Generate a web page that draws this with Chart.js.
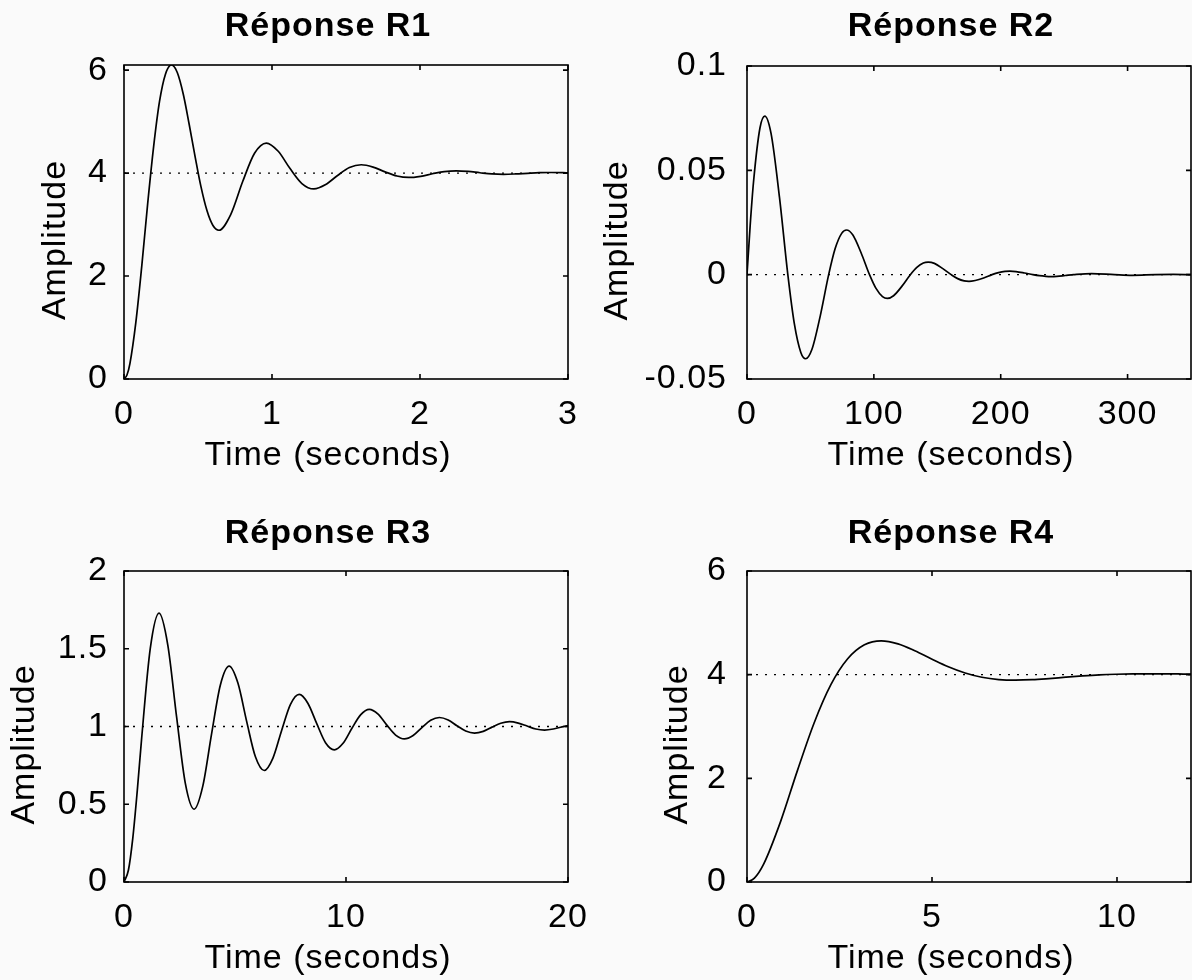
<!DOCTYPE html>
<html><head><meta charset="utf-8">
<script src="https://cdn.jsdelivr.net/npm/chart.js@4.4.1/dist/chart.umd.min.js"></script>
<style>
html,body{margin:0;padding:0;background:#fafafa;}
#wrap{position:relative;width:1192px;height:980px;overflow:hidden;background:#fafafa;}
canvas{position:absolute;}
</style></head><body>
<div id="wrap">
<canvas id="c1" width="596" height="490" style="left:0;top:0"></canvas>
<canvas id="c2" width="596" height="490" style="left:596px;top:0"></canvas>
<canvas id="c3" width="596" height="490" style="left:0;top:490px"></canvas>
<canvas id="c4" width="596" height="490" style="left:596px;top:490px"></canvas>
</div>
<script>
// ---------- data ----------
const titles = ['Réponse R1', 'Réponse R2', 'Réponse R3', 'Réponse R4'];
const xLabel = 'Time (seconds)';
const yLabel = 'Amplitude';

const r1Time = [0, 0.02, 0.04, 0.08, 0.12, 0.16, 0.20, 0.24, 0.28, 0.321, 0.36, 0.401, 0.44, 0.481, 0.52, 0.561, 0.60, 0.641,
  0.721, 0.802, 0.882, 0.962, 1.042, 1.122, 1.202, 1.283, 1.363, 1.443, 1.523, 1.603, 1.683, 1.764, 1.844, 1.924,
  2.004, 2.084, 2.164, 2.245, 2.325, 2.405, 2.485, 2.565, 2.645, 2.726, 2.806, 2.886, 2.966, 3.0];
const r1Amp = [0, 0.078, 0.300, 1.099, 2.193, 3.408, 4.511, 5.392, 5.922, 6.107, 5.954, 5.528, 4.954, 4.312, 3.737, 3.267, 2.988, 2.890,
  3.195, 3.836, 4.386, 4.584, 4.424, 4.087, 3.797, 3.692, 3.777, 3.954, 4.107, 4.162, 4.117, 4.024, 3.944, 3.915,
  3.938, 3.987, 4.030, 4.045, 4.033, 4.007, 3.984, 3.976, 3.983, 3.996, 4.008, 4.012, 4.009, 4.006];
const r1Final = 4;
const r1XTicks = [0, 1, 2, 3];
const r1YTicks = [0, 2, 4, 6];
const r1XRange = [0, 3];
const r1YRange = [0, 6.1];

const r2Time = [0, 2.56, 5.12, 10.25, 14.05, 18.95, 25.61, 32.19, 37.31, 42.43, 46.24, 51.14, 57.80, 64.38,
  69.50, 74.62, 78.43, 83.33, 89.99, 96.57, 101.69, 106.81, 110.62, 115.52, 122.18, 128.76,
  133.88, 139.00, 142.81, 147.71, 154.37, 160.95, 166.07, 171.19, 175.00, 179.90, 186.56, 193.14,
  198.26, 203.38, 207.19, 212.09, 218.75, 225.33, 230.45, 235.57, 239.38, 244.28, 250.94, 257.52,
  271.57, 289.71, 303.76, 321.90, 335.95, 350];
const r2Amp = [0, 0.0241, 0.0443, 0.0704, 0.0760, 0.0677, 0.0370, 0, -0.0235, -0.0373, -0.0403, -0.0359, -0.0196, 0,
  0.0125, 0.0198, 0.0214, 0.0191, 0.0104, 0, -0.0066, -0.0105, -0.0114, -0.0101, -0.0055, 0,
  0.0035, 0.0056, 0.0060, 0.0054, 0.0029, 0, -0.0019, -0.0030, -0.0032, -0.0028, -0.0016, 0,
  0.0010, 0.0016, 0.0017, 0.0015, 0.0008, 0, -0.0005, -0.0008, -0.0009, -0.0008, -0.0004, 0,
  0.0005, 0, -0.0003, 0, 0.0001, 0];
const r2Final = 0;
const r2XTicks = [0, 100, 200, 300];
const r2YTicks = [-0.05, 0, 0.05, 0.1];
const r2XRange = [0, 350];
const r2YRange = [-0.05, 0.1];

const r3Time = [0, 0.2, 0.395, 0.6, 0.789, 1.184, 1.579, 1.973, 2.368, 2.763, 3.157, 3.552, 3.947, 4.341, 4.736,
  5.131, 5.525, 5.920, 6.315, 6.709, 7.104, 7.499, 7.893, 8.288, 8.683, 9.077, 9.472, 9.867, 10.261, 10.656,
  11.051, 11.445, 11.840, 12.235, 12.629, 13.024, 13.419, 13.813, 14.208, 14.603, 14.997, 15.392, 15.787,
  16.181, 16.576, 16.971, 17.365, 17.760, 18.155, 18.549, 18.944, 19.339, 19.733, 20];
const r3Amp = [0, 0.077, 0.281, 0.591, 0.914, 1.502, 1.729, 1.524, 1.063, 0.634, 0.468, 0.618, 0.954, 1.267, 1.388,
  1.279, 1.033, 0.805, 0.717, 0.797, 0.976, 1.142, 1.206, 1.148, 1.018, 0.896, 0.850, 0.892, 0.987, 1.075,
  1.110, 1.079, 1.009, 0.945, 0.920, 0.942, 0.993, 1.040, 1.058, 1.042, 1.005, 0.971, 0.958,
  0.969, 0.996, 1.021, 1.031, 1.022, 1.003, 0.984, 0.977, 0.984, 0.998, 1.006];
const r3Final = 1;
const r3XTicks = [0, 10, 20];
const r3YTicks = [0, 0.5, 1, 1.5, 2];
const r3XRange = [0, 20];
const r3YRange = [0, 2];

const r4Time = [0, 0.2, 0.453, 0.907, 1.360, 1.814, 2.267, 2.721, 3.174, 3.628, 4.081, 4.535, 4.988, 5.441, 5.895,
  6.348, 6.802, 7.255, 7.709, 8.162, 8.616, 9.069, 9.522, 9.976, 10.429, 10.883, 11.336, 11.790, 12];
const r4Amp = [0, 0.075, 0.350, 1.165, 2.144, 3.068, 3.806, 4.306, 4.575, 4.652, 4.595, 4.462, 4.303, 4.152, 4.032,
  3.950, 3.906, 3.894, 3.903, 3.925, 3.951, 3.975, 3.995, 4.008, 4.015, 4.017, 4.016, 4.012, 4.010];
const r4Final = 4;
const r4XTicks = [0, 5, 10];
const r4YTicks = [0, 2, 4, 6];
const r4XRange = [0, 12];
const r4YRange = [0, 6];

// ---------- rendering ----------
const FAMILY = "'Liberation Sans', Arial, Helvetica, sans-serif";
const SIZE = 34;
const SPACING = '1px';
const SHIFT = '\u2002\u2002'; // trailing en spaces: labels sit slightly off-centre as in the original

const framePlugin = {
  id: 'frame',
  beforeDraw(chart) { chart.ctx.letterSpacing = SPACING; },
  afterDraw(chart) {
    const {ctx, chartArea: a, scales: {x, y}} = chart;
    ctx.save();
    ctx.letterSpacing = '0px';
    ctx.strokeStyle = '#000';
    ctx.lineWidth = 1.6;
    ctx.strokeRect(a.left, a.top, a.right - a.left, a.bottom - a.top);
    const L = 5;
    ctx.beginPath();
    x.ticks.forEach(t => {
      const px = x.getPixelForValue(t.value);
      ctx.moveTo(px, a.bottom); ctx.lineTo(px, a.bottom - L);
      ctx.moveTo(px, a.top); ctx.lineTo(px, a.top + L);
    });
    y.ticks.forEach(t => {
      const py = y.getPixelForValue(t.value);
      ctx.moveTo(a.left, py); ctx.lineTo(a.left + L, py);
      ctx.moveTo(a.right, py); ctx.lineTo(a.right - L, py);
    });
    ctx.stroke();
    ctx.restore();
  }
};

function noPad(s) { s.paddingLeft = 0; s.paddingRight = 0; s.paddingTop = 0; s.paddingBottom = 0; }

function makeChart(id, title, time, amp, finalVal, xTicks, yTicks, xRange, yRange, lay) {
  const pts = time.map((t, i) => ({x: t, y: amp[i]}));
  const ref = xRange.map(v => ({x: v, y: finalVal}));
  const fontN = {family: FAMILY, size: SIZE};
  return new Chart(document.getElementById(id), {
    type: 'line',
    data: {datasets: [
      {data: pts, borderColor: '#000', borderWidth: 1.7, pointRadius: 0, cubicInterpolationMode: 'monotone', fill: false},
      {data: ref, borderColor: '#000', borderWidth: 1.3, borderDash: [2, 7], pointRadius: 0, fill: false}
    ]},
    options: {
      responsive: false, animation: false, events: [],
      layout: {padding: {left: 0, right: lay.padR, top: 0, bottom: 0}},
      plugins: {legend: {display: false}, tooltip: {enabled: false}},
      scales: {
        x: {
          type: 'linear', position: 'bottom', min: xRange[0], max: xRange[1],
          afterBuildTicks: s => { s.ticks = xTicks.map(v => ({value: v})); },
          afterFit: s => { s.height = lay.bottomH; noPad(s); },
          grid: {display: false, drawTicks: false}, border: {display: false},
          ticks: {color: '#000', font: fontN, padding: lay.xTickPad, maxRotation: 0, autoSkip: false, callback: v => String(v)},
          title: {display: true, text: xLabel + SHIFT, color: '#000', font: fontN, padding: {top: 0, bottom: lay.xTitlePad}}
        },
        x2: {
          type: 'linear', position: 'top', min: xRange[0], max: xRange[1],
          afterFit: s => { s.height = lay.topH; noPad(s); },
          grid: {display: false, drawTicks: false}, border: {display: false},
          ticks: {display: false},
          title: {display: true, text: title + SHIFT, color: '#000', font: {family: FAMILY, size: SIZE, weight: 'bold'}, padding: {top: lay.titlePad, bottom: 0}}
        },
        y: {
          type: 'linear', position: 'left', min: yRange[0], max: yRange[1],
          afterBuildTicks: s => { s.ticks = yTicks.map(v => ({value: v})); },
          afterFit: s => { s.width = lay.leftW; noPad(s); },
          grid: {display: false, drawTicks: false}, border: {display: false},
          ticks: {color: '#000', font: fontN, padding: lay.yTickPad, autoSkip: false, callback: v => String(v)},
          title: {display: true, text: yLabel + SHIFT, color: '#000', font: fontN, padding: {top: lay.yTitlePad, bottom: 0}}
        }
      }
    },
    plugins: [framePlugin]
  });
}

makeChart('c1', titles[0], r1Time, r1Amp, r1Final, r1XTicks, r1YTicks, r1XRange, r1YRange,
  {leftW: 124, padR: 28, topH: 65, bottomH: 111, xTickPad: 15.6, xTitlePad: 13.6, yTickPad: 16, yTitlePad: 35, titlePad: 6.6});
makeChart('c2', titles[1], r2Time, r2Amp, r2Final, r2XTicks, r2YTicks, r2XRange, r2YRange,
  {leftW: 151, padR: 1, topH: 66, bottomH: 111, xTickPad: 15.6, xTitlePad: 13.6, yTickPad: 20, yTitlePad: 1.6, titlePad: 6.6});
makeChart('c3', titles[2], r3Time, r3Amp, r3Final, r3XTicks, r3YTicks, r3XRange, r3YRange,
  {leftW: 124, padR: 28, topH: 81, bottomH: 98, xTickPad: 15.1, xTitlePad: 0.9, yTickPad: 16, yTitlePad: 4.6, titlePad: 23});
makeChart('c4', titles[3], r4Time, r4Amp, r4Final, r4XTicks, r4YTicks, r4XRange, r4YRange,
  {leftW: 151, padR: 1, topH: 81, bottomH: 98, xTickPad: 15.1, xTitlePad: 0.9, yTickPad: 20, yTitlePad: 61, titlePad: 23});
</script>
</body></html>
